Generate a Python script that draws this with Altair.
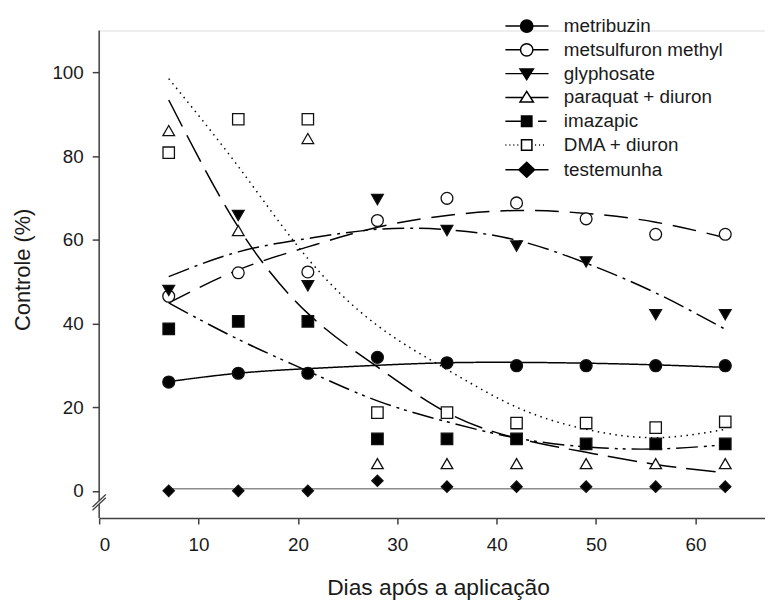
import altair as alt
import pandas as pd

FONT = "Liberation Sans"

# ---------------- data ----------------
days = [7, 14, 21, 28, 35, 42, 49, 56, 63]
series = ["metribuzin", "metsulfuron methyl", "glyphosate", "paraquat + diuron",
          "imazapic", "DMA + diuron", "testemunha"]

# observed means
metribuzin_obs = [26.0, 28.1, 28.1, 31.9, 30.6, 29.9, 29.9, 29.9, 29.9]
metsulfuron_obs = [46.5, 52.1, 52.3, 64.6, 69.9, 68.8, 65.0, 61.3, 61.3]
glyphosate_obs = [47.9, 65.8, 49.0, 69.6, 62.2, 58.5, 54.7, 42.1, 42.1]
paraquat_obs = [86.1, 62.2, 84.2, 6.5, 6.5, 6.5, 6.5, 6.5, 6.5]
imazapic_obs = [38.7, 40.5, 40.5, 12.4, 12.4, 12.4, 11.2, 11.2, 11.2]
dma_obs = [80.8, 88.8, 88.8, 18.7, 18.7, 16.2, 16.2, 15.1, 16.5]
testemunha_obs = [0.0, 0.0, 0.0, 2.4, 1.0, 1.0, 1.0, 1.0, 1.0]

# fitted curves (read at the same days)
metribuzin_fit = [26.1, 28.1, 29.2, 30.0, 30.6, 30.7, 30.5, 30.1, 29.5]
metsulfuron_fit = [44.9, 52.8, 58.3, 63.0, 65.8, 67.0, 66.3, 64.2, 60.5]
glyphosate_fit = [51.2, 57.1, 60.3, 62.5, 62.4, 59.9, 54.4, 47.3, 38.6]
paraquat_fit = [93.4, 63.0, 42.4, 29.6, 18.7, 12.6, 9.2, 6.3, 4.3]
imazapic_fit = [44.9, 36.2, 28.6, 21.5, 16.5, 12.6, 10.5, 10.0, 11.0]
dma_fit = [98.5, 77.5, 55.5, 39.5, 29.0, 20.0, 14.7, 12.7, 14.7]
testemunha_fit = [0.5, 0.5, 0.5, 0.5, 0.5, 0.5, 0.5, 0.5, 0.5]

x_ticks = [0, 10, 20, 30, 40, 50, 60]
y_ticks = [0, 20, 40, 60, 80, 100]

obs = [metribuzin_obs, metsulfuron_obs, glyphosate_obs, paraquat_obs,
       imazapic_obs, dma_obs, testemunha_obs]
fits = [metribuzin_fit, metsulfuron_fit, glyphosate_fit, paraquat_fit,
        imazapic_fit, dma_fit, testemunha_fit]

pts = pd.DataFrame([{"series": s, "day": d, "value": v}
                    for s, vals in zip(series, obs) for d, v in zip(days, vals)])
curves = pd.DataFrame([{"series": s, "day": d, "value": v}
                       for s, vals in zip(series, fits) for d, v in zip(days, vals)])

# ---------------- styles ----------------
shapes = ["circle", "circle", "triangle-down", "triangle-up", "square", "square", "diamond"]
fills = ["black", "white", "black", "white", "black", "white", "black"]
strokes = ["black"] * 7
sizes = [145, 130, 165, 150, 135, 125, 155]
dashes = [[1, 0], [24, 11], [22, 6, 3, 6], [30, 10], [22, 6, 3, 5, 3, 6], [1.5, 4.5], [1, 0]]
line_colors = ["black"] * 6 + ["#8c8c8c"]

circ = "M-1.25,0A1.25,1.25 0 1,1 1.25,0A1.25,1.25 0 1,1 -1.25,0Z"
sq = "M-1.05,-1.05L1.05,-1.05L1.05,1.05L-1.05,1.05Z"
legend_paths = [
    "M-4.3,0L-1.25,0M1.25,0L4.4,0" + circ,
    "M-4.3,0L-1.25,0M1.25,0L4.4,0" + circ,
    "M-4.3,0L4.4,0M-1.35,-0.95L1.35,-0.95L0,1.2Z",
    "M-4.3,0L-0.75,0M0.75,0L4.4,0M0,-1.2L-1.35,0.95L1.35,0.95Z",
    "M-4.3,0L0,0M2.3,0L4.0,0" + sq,
    "M-4.3,0L-4.1,0M-3.5,0L-3.3,0M-2.7,0L-2.5,0M-1.9,0L-1.7,0"
    "M1.7,0L1.9,0M2.5,0L2.7,0M3.3,0L3.5,0" + sq,
    "M-4.3,0L4.4,0M-1.6,0L0,-1.5L1.6,0L0,1.5Z",
]

x_scale = alt.Scale(domain=[0, 67], nice=False, zero=False)
y_scale = alt.Scale(domain=[-6.5, 110], nice=False, zero=False)

AX = "#404040"
x_axis = alt.Axis(values=x_ticks, title="Dias após a aplicação", grid=False,
                  tickSize=6, tickWidth=1.5, tickColor=AX, domainColor=AX, domainWidth=1.5,
                  labelPadding=12, labelFont=FONT, labelFontSize=19, labelColor="#1a1a1a",
                  titleFont=FONT, titleFontSize=23, titleFontWeight="normal", titleColor="#1a1a1a",
                  titleX=342, titleY=77, titleBaseline="alphabetic")
y_axis = alt.Axis(values=y_ticks, title="Controle (%)", grid=False, domain=False,
                  tickSize=7, tickWidth=1.5, tickColor=AX,
                  labelPadding=9, labelFont=FONT, labelFontSize=19, labelColor="#1a1a1a",
                  titleFont=FONT, titleFontSize=22, titleFontWeight="normal", titleColor="#1a1a1a",
                  titleX=-70.5, titleY=241, titleBaseline="alphabetic")

X = alt.X("day:Q", scale=x_scale, axis=x_axis)
Y = alt.Y("value:Q", scale=y_scale, axis=y_axis)

lines = alt.Chart(curves).mark_line(strokeWidth=1.5, interpolate="natural").encode(
    x=X, y=Y, detail="series:N",
    stroke=alt.Stroke("series:N", scale=alt.Scale(domain=series, range=line_colors), legend=None),
    strokeDash=alt.StrokeDash("series:N", scale=alt.Scale(domain=series, range=dashes), legend=None),
)

points = alt.Chart(pts).mark_point(filled=True, opacity=1, stroke="#111", strokeWidth=1.3).encode(
    x=alt.X("day:Q"), y=alt.Y("value:Q"),
    shape=alt.Shape("series:N", scale=alt.Scale(domain=series, range=shapes), legend=None),
    fill=alt.Fill("series:N", scale=alt.Scale(domain=series, range=fills), legend=None),
    size=alt.Size("series:N", scale=alt.Scale(domain=series, range=sizes), legend=None),
)

# y-axis line with a break
axis_top, gap_hi, gap_lo, axis_bottom = 110, -2.4, -3.2, -6.5
axis_df = pd.DataFrame({"x": [0, 0], "y": [gap_hi, axis_bottom], "y2": [axis_top, gap_lo]})
axis_rules = alt.Chart(axis_df).mark_rule(color=AX, strokeWidth=1.5).encode(
    x=alt.X("x:Q"), y=alt.Y("y:Q"), y2="y2:Q")
slash_df = pd.DataFrame({"x": [-0.67, -0.67], "x2": [0.67, 0.67],
                         "y": [-3.86, -4.66], "y2": [-0.88, -1.66]})
slashes = alt.Chart(slash_df).mark_rule(color=AX, strokeWidth=1.3).encode(
    x=alt.X("x:Q"), x2="x2:Q", y=alt.Y("y:Q"), y2="y2:Q")

legend = alt.Legend(orient="none", legendX=422, legendY=-14, title=None, padding=0,
                    symbolSize=100, symbolStrokeColor="black", symbolStrokeWidth=1.5,
                    labelFont=FONT, labelFontSize=19, labelColor="#1a1a1a", labelOffset=28,
                    labelLimit=300, rowPadding=4)
legend_layer = alt.Chart(pts).transform_filter("datum.day > 1000").mark_point(
    filled=True, opacity=1, strokeWidth=1.5).encode(
    x=alt.X("day:Q"), y=alt.Y("value:Q"),
    shape=alt.Shape("series:N", scale=alt.Scale(domain=series, range=legend_paths), legend=legend),
    fill=alt.Fill("series:N", scale=alt.Scale(domain=series, range=fills), legend=legend),
    stroke=alt.Stroke("series:N", scale=alt.Scale(domain=series, range=strokes), legend=legend),
)

chart = alt.layer(lines, points, axis_rules, slashes, legend_layer).resolve_scale(
    shape="independent", fill="independent", size="independent", stroke="independent"
).properties(
    width=672, height=492,
    padding={"left": 92, "top": 20, "right": 0, "bottom": 80},
    autosize=alt.AutoSizeParams(type="none"),
).configure_view(stroke=None).configure(font=FONT, background="white")

chart.save("out.html", embed_options={"renderer": "svg", "actions": False})
